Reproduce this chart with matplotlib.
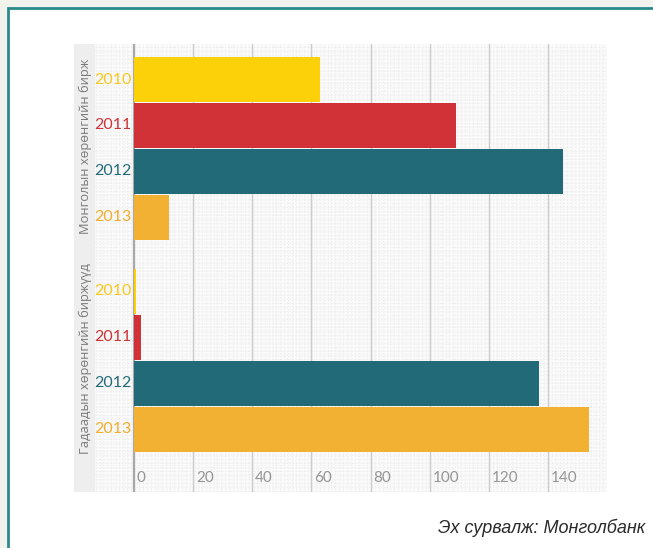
import numpy as np
import matplotlib.pyplot as plt
from matplotlib.patches import Rectangle

# values
years = ['2010', '2011', '2012', '2013']
mongol_vals = [63, 109, 145, 12]
foreign_vals = [0.6, 2.5, 137, 154]
group_labels = ['Монголын хөрөнгийн бирж', 'Гадаадын хөрөнгийн биржүүд']
x_ticks = [0, 20, 40, 60, 80, 100, 120, 140]
source_text = 'Эх сурвалж: Монголбанк'

colors = ['#fcd10a', '#d13237', '#226a78', '#f3b134']
label_colors = ['#f7c81c', '#cf3237', '#226a78', '#f3ad2c']

W, H = 653, 548
fig = plt.figure(figsize=(W / 100, H / 100), dpi=100)
fig.patch.set_facecolor('#f3f3ee')

# white panel with teal border
fig.patches.append(Rectangle((8 / W, -0.05), 1.1, 1 - 8 / H + 0.05,
                             transform=fig.transFigure, facecolor='white',
                             edgecolor='#2b8a8c', linewidth=2, zorder=-2))
# grey strip behind the group labels
fig.patches.append(Rectangle((74 / W, 1 - 492 / H), 21 / W, 448 / H,
                             transform=fig.transFigure, facecolor='#eeeeee',
                             edgecolor='none', zorder=-1))

ax = fig.add_axes([95 / W, 1 - 492 / H, 512 / W, 448 / H])
ax.set_zorder(2)
ax.set_facecolor('#fafafa')

pitch = 1.0
gap = 0.61
pos_m = np.arange(4) * pitch
pos_f = pos_m + 4 * pitch + gap
bar_h = 0.967

ax.barh(pos_m, mongol_vals, height=bar_h, color=colors, zorder=3)
ax.barh(pos_f, foreign_vals, height=bar_h, color=colors, zorder=3)

ax.set_xlim(-13.2, 160)
ax.set_ylim(pos_f[-1] + 1.36, -0.772)

# dotted background texture
ax.set_xticks(np.arange(-13, 160, 1.33), minor=True)
ax.set_yticks(np.arange(-0.7, 9.0, 0.087), minor=True)
ax.grid(which='minor', color='#ececec', linestyle=':', linewidth=0.8, zorder=0)

for v in x_ticks:
    ax.axvline(v, color='#a8a8a8' if v == 0 else '#cccccc',
               linewidth=1.6 if v == 0 else 1.0, zorder=2)
    ax.text(v + 1.0, pos_f[-1] + 1.05, str(v), color='#959595',
            fontsize=11, family='Lato', ha='left', va='center', zorder=4)

ax.set_xticks([])
ax.set_yticks([])
ax.tick_params(which='both', length=0)
for s in ax.spines.values():
    s.set_visible(False)

for pos in (pos_m, pos_f):
    for p, yr, c in zip(pos, years, label_colors):
        ax.text(-0.9, p, yr, color=c, fontsize=11.5, family='Lato',
                ha='right', va='center', zorder=4)

fig.text(85 / W, 1 - 146 / H, group_labels[0], rotation=90, color='#7a7a7a',
         fontsize=9.3, family='Open Sans', ha='center', va='center', zorder=3)
fig.text(85 / W, 1 - 359 / H, group_labels[1], rotation=90, color='#7a7a7a',
         fontsize=9.3, family='Open Sans', ha='center', va='center', zorder=3)

fig.text(645 / W, 1 - 528 / H, source_text, fontsize=13, style='italic',
         family='Liberation Sans', color='#2a2a2a', ha='right', va='center')

fig.savefig('out.png', dpi=100, facecolor=fig.get_facecolor())
